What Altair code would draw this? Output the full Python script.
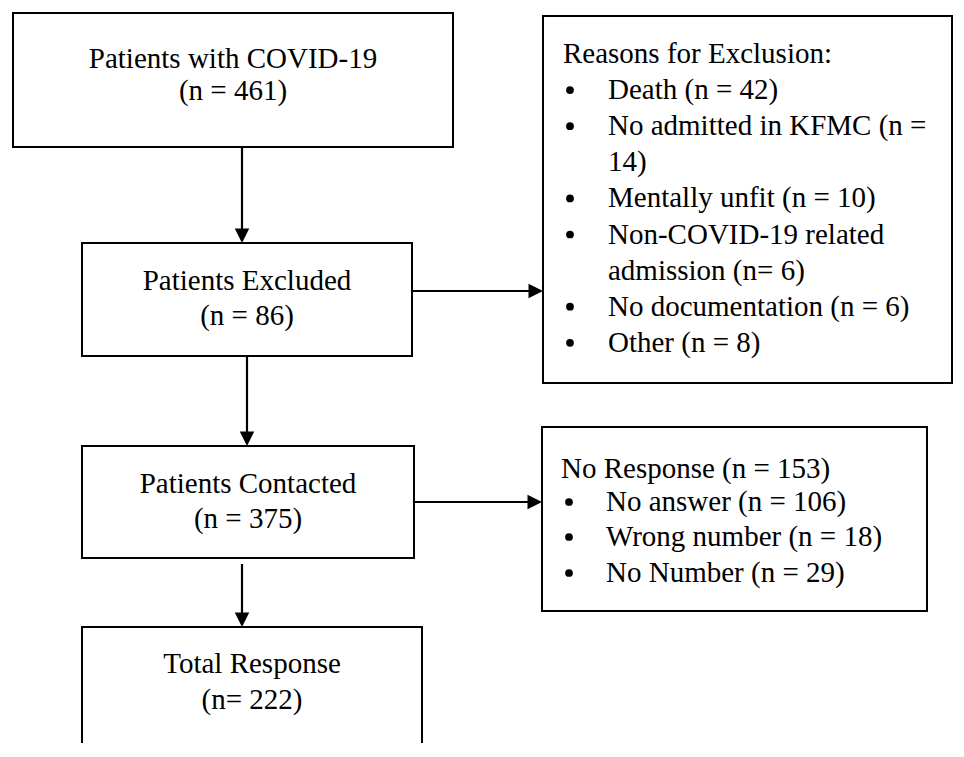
import altair as alt
import pandas as pd

# ---------------- content ----------------
main_titles = ["Patients with COVID-19", "Patients Excluded", "Patients Contacted", "Total Response"]
main_counts = ["(n = 461)", "(n = 86)", "(n = 375)", "(n= 222)"]

exclusion_header = "Reasons for Exclusion:"
exclusion_items = [
    ["Death (n = 42)"],
    ["No admitted in KFMC (n =", "14)"],
    ["Mentally unfit (n = 10)"],
    ["Non-COVID-19 related", "admission (n= 6)"],
    ["No documentation (n = 6)"],
    ["Other (n = 8)"],
]

noresp_header = "No Response (n = 153)"
noresp_items = ["No answer (n = 106)", "Wrong number (n = 18)", "No Number (n = 29)"]

# ---------------- layout (page pixel coordinates) ----------------
W, H = 948, 735
X0, X1 = 8, 8 + W
Y0, Y1 = 8, 8 + H

box_x1 = [13, 82, 543, 82, 542, 82]
box_x2 = [453, 412, 952, 414, 927, 422]
box_y1 = [13, 243, 16, 446, 427, 627]
box_y2 = [147, 356, 383, 558, 611, 760]

main_cx = [233, 247, 248, 252]
main_base1 = [68, 290, 493, 673]
main_base2 = [100, 325, 528, 709]

FONT = "Liberation Serif"
FS = 29
BULLET_LIFT = 9

boxes = pd.DataFrame({"x": box_x1, "x2": box_x2, "y": box_y1, "y2": box_y2})

# connector lines (start -> end); arrowheads at end
v_arrows = pd.DataFrame({"x": [242, 247, 242], "y": [147, 356, 564], "ty": [243, 446, 627]})
h_arrows = pd.DataFrame({"x": [412, 414], "tx": [543, 542], "y": [291, 502]})

lines = pd.concat([
    pd.DataFrame({"x": v_arrows.x, "x2": v_arrows.x, "y": v_arrows.y, "y2": v_arrows.ty - 8}),
    pd.DataFrame({"x": h_arrows.x, "x2": h_arrows.tx - 8, "y": h_arrows.y, "y2": h_arrows.y}),
], ignore_index=True)

heads_down = pd.DataFrame({"x": v_arrows.x, "y": v_arrows.ty})
heads_right = pd.DataFrame({"x": h_arrows.tx, "y": h_arrows.y})

# centred texts in main boxes
center_rows = []
for t, c, cx, b1, b2 in zip(main_titles, main_counts, main_cx, main_base1, main_base2):
    center_rows.append({"x": cx, "y": b1, "text": t})
    center_rows.append({"x": cx, "y": b2, "text": c})
center_df = pd.DataFrame(center_rows)

# left aligned texts in side boxes
left_rows = []
bullet_rows = []
# exclusion box
ex_header_x, ex_bullet_x, ex_text_x = 563, 570, 608
ex_base0, ex_step = 63, 36.1
left_rows.append({"x": ex_header_x, "y": ex_base0, "text": exclusion_header})
k = 1
for item in exclusion_items:
    bullet_rows.append({"x": ex_bullet_x, "y": ex_base0 + ex_step * k - BULLET_LIFT})
    for ln in item:
        left_rows.append({"x": ex_text_x, "y": ex_base0 + ex_step * k, "text": ln})
        k += 1
# no response box
nr_header_x, nr_bullet_x, nr_text_x = 561, 569, 606
nr_bases = [478, 511, 546, 582]
left_rows.append({"x": nr_header_x, "y": nr_bases[0], "text": noresp_header})
for item, b in zip(noresp_items, nr_bases[1:]):
    bullet_rows.append({"x": nr_bullet_x, "y": b - BULLET_LIFT})
    left_rows.append({"x": nr_text_x, "y": b, "text": item})
left_df = pd.DataFrame(left_rows)
bullet_df = pd.DataFrame(bullet_rows)

xs = alt.Scale(domain=[X0, X1], nice=False, zero=False)
ys = alt.Scale(domain=[Y0, Y1], nice=False, zero=False, reverse=True)
X = lambda f: alt.X(f, type="quantitative", scale=xs, axis=None)
Y = lambda f: alt.Y(f, type="quantitative", scale=ys, axis=None)

rects = alt.Chart(boxes).mark_rect(fill="white", stroke="black", strokeWidth=2, clip=True).encode(
    x=X("x"), x2="x2", y=Y("y"), y2="y2"
)
rules = alt.Chart(lines).mark_rule(color="black", strokeWidth=2.2).encode(
    x=X("x"), x2="x2", y=Y("y"), y2="y2"
)
hd = alt.Chart(heads_down).mark_point(
    shape="M0,0L-0.5,-1L0.5,-1Z", filled=True, color="black", opacity=1, size=840
).encode(x=X("x"), y=Y("y"))
hr = alt.Chart(heads_right).mark_point(
    shape="M0,0L-1,-0.5L-1,0.5Z", filled=True, color="black", opacity=1, size=840
).encode(x=X("x"), y=Y("y"))

ctext = alt.Chart(center_df).mark_text(
    font=FONT, fontSize=FS, align="center", baseline="alphabetic", color="black"
).encode(x=X("x"), y=Y("y"), text="text:N")
ltext = alt.Chart(left_df).mark_text(
    font=FONT, fontSize=FS, align="left", baseline="alphabetic", color="black"
).encode(x=X("x"), y=Y("y"), text="text:N")
bullets = alt.Chart(bullet_df).mark_point(
    shape="circle", filled=True, color="black", opacity=1, size=60
).encode(x=X("x"), y=Y("y"))

chart = alt.layer(rects, rules, hd, hr, ctext, ltext, bullets).properties(
    width=W, height=H, padding=0, autosize=alt.AutoSizeParams(type="none"), background="white"
).configure_view(stroke=None)

chart.save("out.html", embed_options={"renderer": "svg", "actions": False})
